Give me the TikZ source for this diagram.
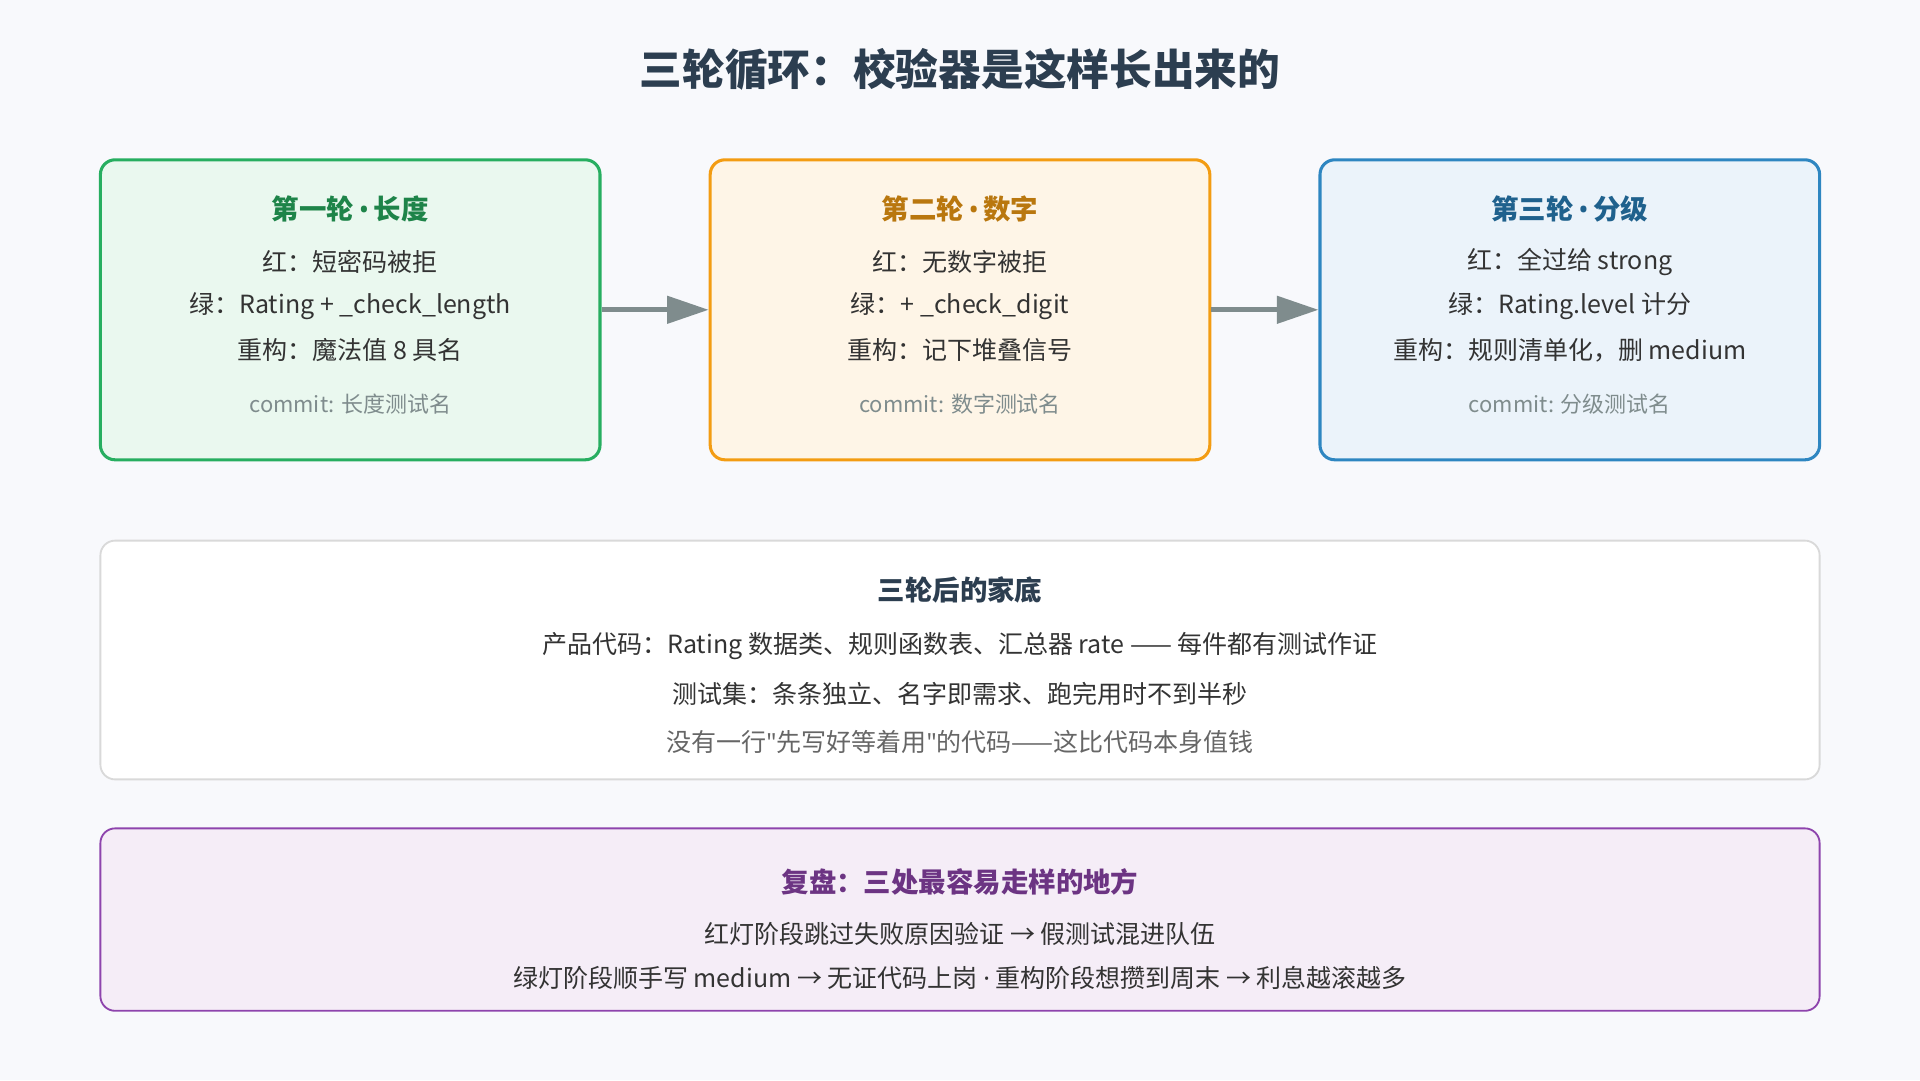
\documentclass[tikz,border=0pt]{standalone}
\usepackage{fontspec}
\setmainfont{Noto Sans CJK SC}
\newfontfamily\lat{Noto Sans}
\usetikzlibrary{arrows.meta, positioning}
\definecolor{bgc}{HTML}{F8F9FC}
\definecolor{ink}{HTML}{2C3E50}
\definecolor{body}{HTML}{333333}
\definecolor{grn}{HTML}{27AE60}\definecolor{grnf}{HTML}{EAF8EF}\definecolor{grnt}{HTML}{1E8449}
\definecolor{org}{HTML}{F39C12}\definecolor{orgf}{HTML}{FEF5E7}\definecolor{orgt}{HTML}{B9770E}
\definecolor{blu}{HTML}{2E86C1}\definecolor{bluf}{HTML}{EBF3FA}\definecolor{blut}{HTML}{1F618D}
\definecolor{pur}{HTML}{8E44AD}\definecolor{purf}{HTML}{F5EDF7}\definecolor{purt}{HTML}{6C3483}
\definecolor{arr}{HTML}{7F8C8D}
\newcommand{\dotsep}{{\lat\,•\,}}
\newcommand{\qt}{{\lat"}}
\begin{document}
\begin{tikzpicture}[x=1bp, y=-1bp,
		box/.style={draw=#1, line width=2.5bp, rounded corners=12bp, minimum width=408bp, minimum height=245bp},
		wide/.style={rounded corners=12bp, minimum width=1404bp},
		head/.style={font=\fontsize{22.5}{26}\selectfont\bfseries},
		txt/.style={text=body, font=\fontsize{20.5}{24}\selectfont},
		note/.style={text=arr, font=\fontsize{18}{22}\selectfont},
		arrow/.style={-{Triangle[length=34bp, width=22bp]}, draw=arr, line width=4bp}
		]
		% background
		\fill[bgc] (0,0) rectangle (1568,882);
		
		% === TITLE ===
		\node[text=ink, font=\fontsize{35}{40}\selectfont\bfseries] (title) at (784,57) {三轮循环：校验器是这样长出来的};
		
		% === ROUND BOXES ===
		\foreach \name/\x/\c/\t/\la/\lb/\lc/\cm in {
			r1/286/grn/第一轮\dotsep{}长度/{红：短密码被拒}/{绿：Rating + \_check\_length}/{重构：魔法值 8 具名}/{commit: 长度测试名},
			r2/784/org/第二轮\dotsep{}数字/{红：无数字被拒}/{绿：+ \_check\_digit}/{重构：记下堆叠信号}/{commit: 数字测试名},
			r3/1282/blu/第三轮\dotsep{}分级/{红：全过给 strong}/{绿：Rating.level 计分}/{重构：规则清单化，删 medium}/{commit: 分级测试名}} {
			\node[box=\c, fill=\c f] (\name) at (\x,253) {};
			\node[head, text=\c t] (\name h) at (\x,171) {\t};
			\node[txt] (\name a) at (\x,214) {\la};
			\node[txt] (\name b) at (\x,250) {\lb};
			\node[txt] (\name c) at (\x,286) {\lc};
			\node[note] (\name m) at (\x,330) {\cm};
		}
		
		% === ARROWS ===
		\draw[arrow] (r1.east) -- (r2.west);
		\draw[arrow] (r2.east) -- (r3.west);
		
		% === SUMMARY BOX ===
		\node[wide, draw=black!15, line width=1.5bp, fill=white, minimum height=195bp] (sum) at (784,539) {};
		\node[head, text=ink] (sumh) at (784,482) {三轮后的家底};
		\node[txt] (suma) at (784,528) {产品代码：Rating 数据类、规则函数表、汇总器 rate —— 每件都有测试作证};
		\node[txt] (sumb) at (784,567) {测试集：条条独立、名字即需求、跑完用时不到半秒};
		\node[txt, text=black!60] (sumc) at (784,606) {没有一行\qt{}先写好等着用\qt{}的代码——这比代码本身值钱};
		
		% === REVIEW BOX ===
		\node[wide, draw=pur, line width=1.5bp, fill=purf, minimum height=149bp] (rev) at (784,751) {};
		\node[head, text=purt] (revh) at (784,720) {复盘：三处最容易走样的地方};
		\node[txt] (reva) at (784,763) {红灯阶段跳过失败原因验证 → 假测试混进队伍};
		\node[txt] (revb) at (784,799) {绿灯阶段顺手写 medium → 无证代码上岗 {\lat·} 重构阶段想攒到周末 → 利息越滚越多};
	\end{tikzpicture}
\end{document}
